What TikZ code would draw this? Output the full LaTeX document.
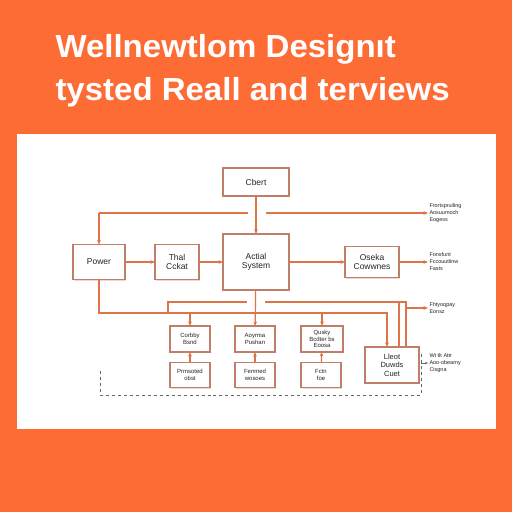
\documentclass[tikz,border=0pt]{standalone}
\usepackage{fontspec}
\setmainfont{Liberation Sans}
\usetikzlibrary{calc}
\usetikzlibrary{arrows.meta}
\usetikzlibrary{shadows}

\definecolor{bgorange}{RGB}{254,108,54}
\definecolor{wire}{RGB}{222,114,72}
\definecolor{boxline}{RGB}{190,126,104}
\definecolor{ink}{RGB}{40,36,34}

\begin{document}
\begin{tikzpicture}[x=1bp, y=-1bp, font=\fontsize{8.5}{9.5}\selectfont,
    every node/.style={inner sep=1.5bp, outer sep=0pt, text=ink},
    title/.style={anchor=base west, text=white, font=\fontsize{32}{34}\selectfont\bfseries},
    box/.style={draw=boxline, fill=white, line width=1.1bp, align=center,
      drop shadow={shadow xshift=1.2bp, shadow yshift=-1.2bp, fill=boxline, opacity=0.3}},
    small/.style={font=\fontsize{6}{6.8}\selectfont},
    note/.style={align=left, anchor=west, font=\fontsize{5.5}{7}\selectfont},
    wire/.style={draw=wire, line width=1.2bp},
    arr/.style={wire, -{Stealth[length=4.5bp, width=3.6bp]}}]
      \useasboundingbox (0,0) rectangle (512,512);
      \fill[bgorange] (0,0) rectangle (512,512);
      \fill[white] (17,134) rectangle (496,429);

      \draw (54,58) node[title] (t1) {\scalebox{1.035}[1]{Wellnewtlom Designıt}};
      \draw (54,101) node[title] (t2) {\scalebox{1.035}[1]{tysted Reall and terviews}};

      \draw (256,182) node[box, minimum width=66bp, minimum height=28bp] (client) {Cbert};
      \draw (99,262) node[box, minimum width=52bp, minimum height=35bp] (power) {Power};
      \draw (177,262) node[box, minimum width=44bp, minimum height=35bp] (thal) {Thal\\Cckat};
      \draw (256,262) node[box, minimum width=66bp, minimum height=56bp] (actial) {Actial\\System};
      \draw (372,262) node[box, minimum width=54bp, minimum height=31bp] (oseka) {Oseka\\Cowwnes};

      \draw (190,339) node[box, small, minimum width=40bp, minimum height=26bp] (up1) {Corbby\\Bsnd};
      \draw (255,339) node[box, small, minimum width=40bp, minimum height=26bp] (up2) {Aoyrma\\Pushan};
      \draw (322,339) node[box, small, minimum width=42bp, minimum height=26bp] (up3) {Qusky\\Bcdter bs\\Eoosa};
      \draw (190,375) node[box, small, minimum width=40bp, minimum height=25bp] (low1) {Prmsoted\\obst};
      \draw (255,375) node[box, small, minimum width=40bp, minimum height=25bp] (low2) {Fenmed\\wosoes};
      \draw (321,375) node[box, small, minimum width=40bp, minimum height=25bp] (low3) {Fctn\\foe};
      \draw (392,365) node[box, font=\fontsize{7.5}{8.5}\selectfont, minimum width=54bp, minimum height=36bp] (lleot) {Lleot\\Duwds\\Cuet};

      \draw (428,213) node[note] (lab1) {Frortspruiling\\Aosuumoch\\Eogess};
      \draw (428,262) node[note] (lab2) {Fonsfunt\\Fccouutlinw\\Fasts};
      \draw (428,308) node[note] (lab3) {Fhtyoqpay\\Eonsz};
      \draw (428,363) node[note] (lab4) {Wt tlt Attr\\Aoo-obearny\\Cisgna};

      \coordinate (tl) at (99,213);
      \coordinate (tm1) at (248,213);
      \coordinate (tm2) at (266,213);
      \coordinate (br) at (387,313);
      \coordinate (m1) at (190,313);
      \coordinate (m3) at (322,313);
      \coordinate (ul) at (168,313);
      \coordinate (ul2) at (168,302);
      \coordinate (um1) at (247,302);
      \coordinate (um2) at (265,302);
      \coordinate (ur1) at (399,302);
      \coordinate (ur2) at (406,302);
      \coordinate (ur3) at (406,308);
      \coordinate (d1) at (100,371);
      \coordinate (d2) at (100,395);
      \coordinate (d3) at (421,395);
      \coordinate (d4) at (421,352);
      \coordinate (d5) at (421,363);

      \draw[arr] (client) -- (actial);
      \draw[wire] (tm1) -- (tl);
      \draw[arr] (tl) -- (power);
      \draw[arr] (tm2) -- (lab1);

      \draw[arr] (power) -- (thal);
      \draw[arr] (thal) -- (actial);
      \draw[arr] (actial) -- (oseka);
      \draw[arr] (oseka) -- (lab2);

      \draw[arr] (power) |- (br) -- (br |- lleot.north);
      \draw[arr] (actial) -- (up2);
      \draw[arr] (m1) -- (up1);
      \draw[arr] (m3) -- (up3);

      \draw[wire] (ul) -- (ul2) -- (um1);
      \draw[wire] (um2) -- (ur2) -- (ur2 |- lleot.north);
      \draw[wire] (ur1) -- (ur1 |- lleot.north);
      \draw[arr] (ur3) -- (lab3);

      \draw[arr] (low1) -- (up1);
      \draw[arr] (low2) -- (up2);
      \draw[arr] (low3) -- (up3);

      \draw[dashed, draw=ink!70, line width=0.7bp] (d1) -- (d2) -- (d3) -- (d4);
      \draw[ink!70, line width=0.7bp, -{Stealth[length=3bp, width=2.5bp]}] (d5) -- (lab4);
    \end{tikzpicture}
\end{document}
